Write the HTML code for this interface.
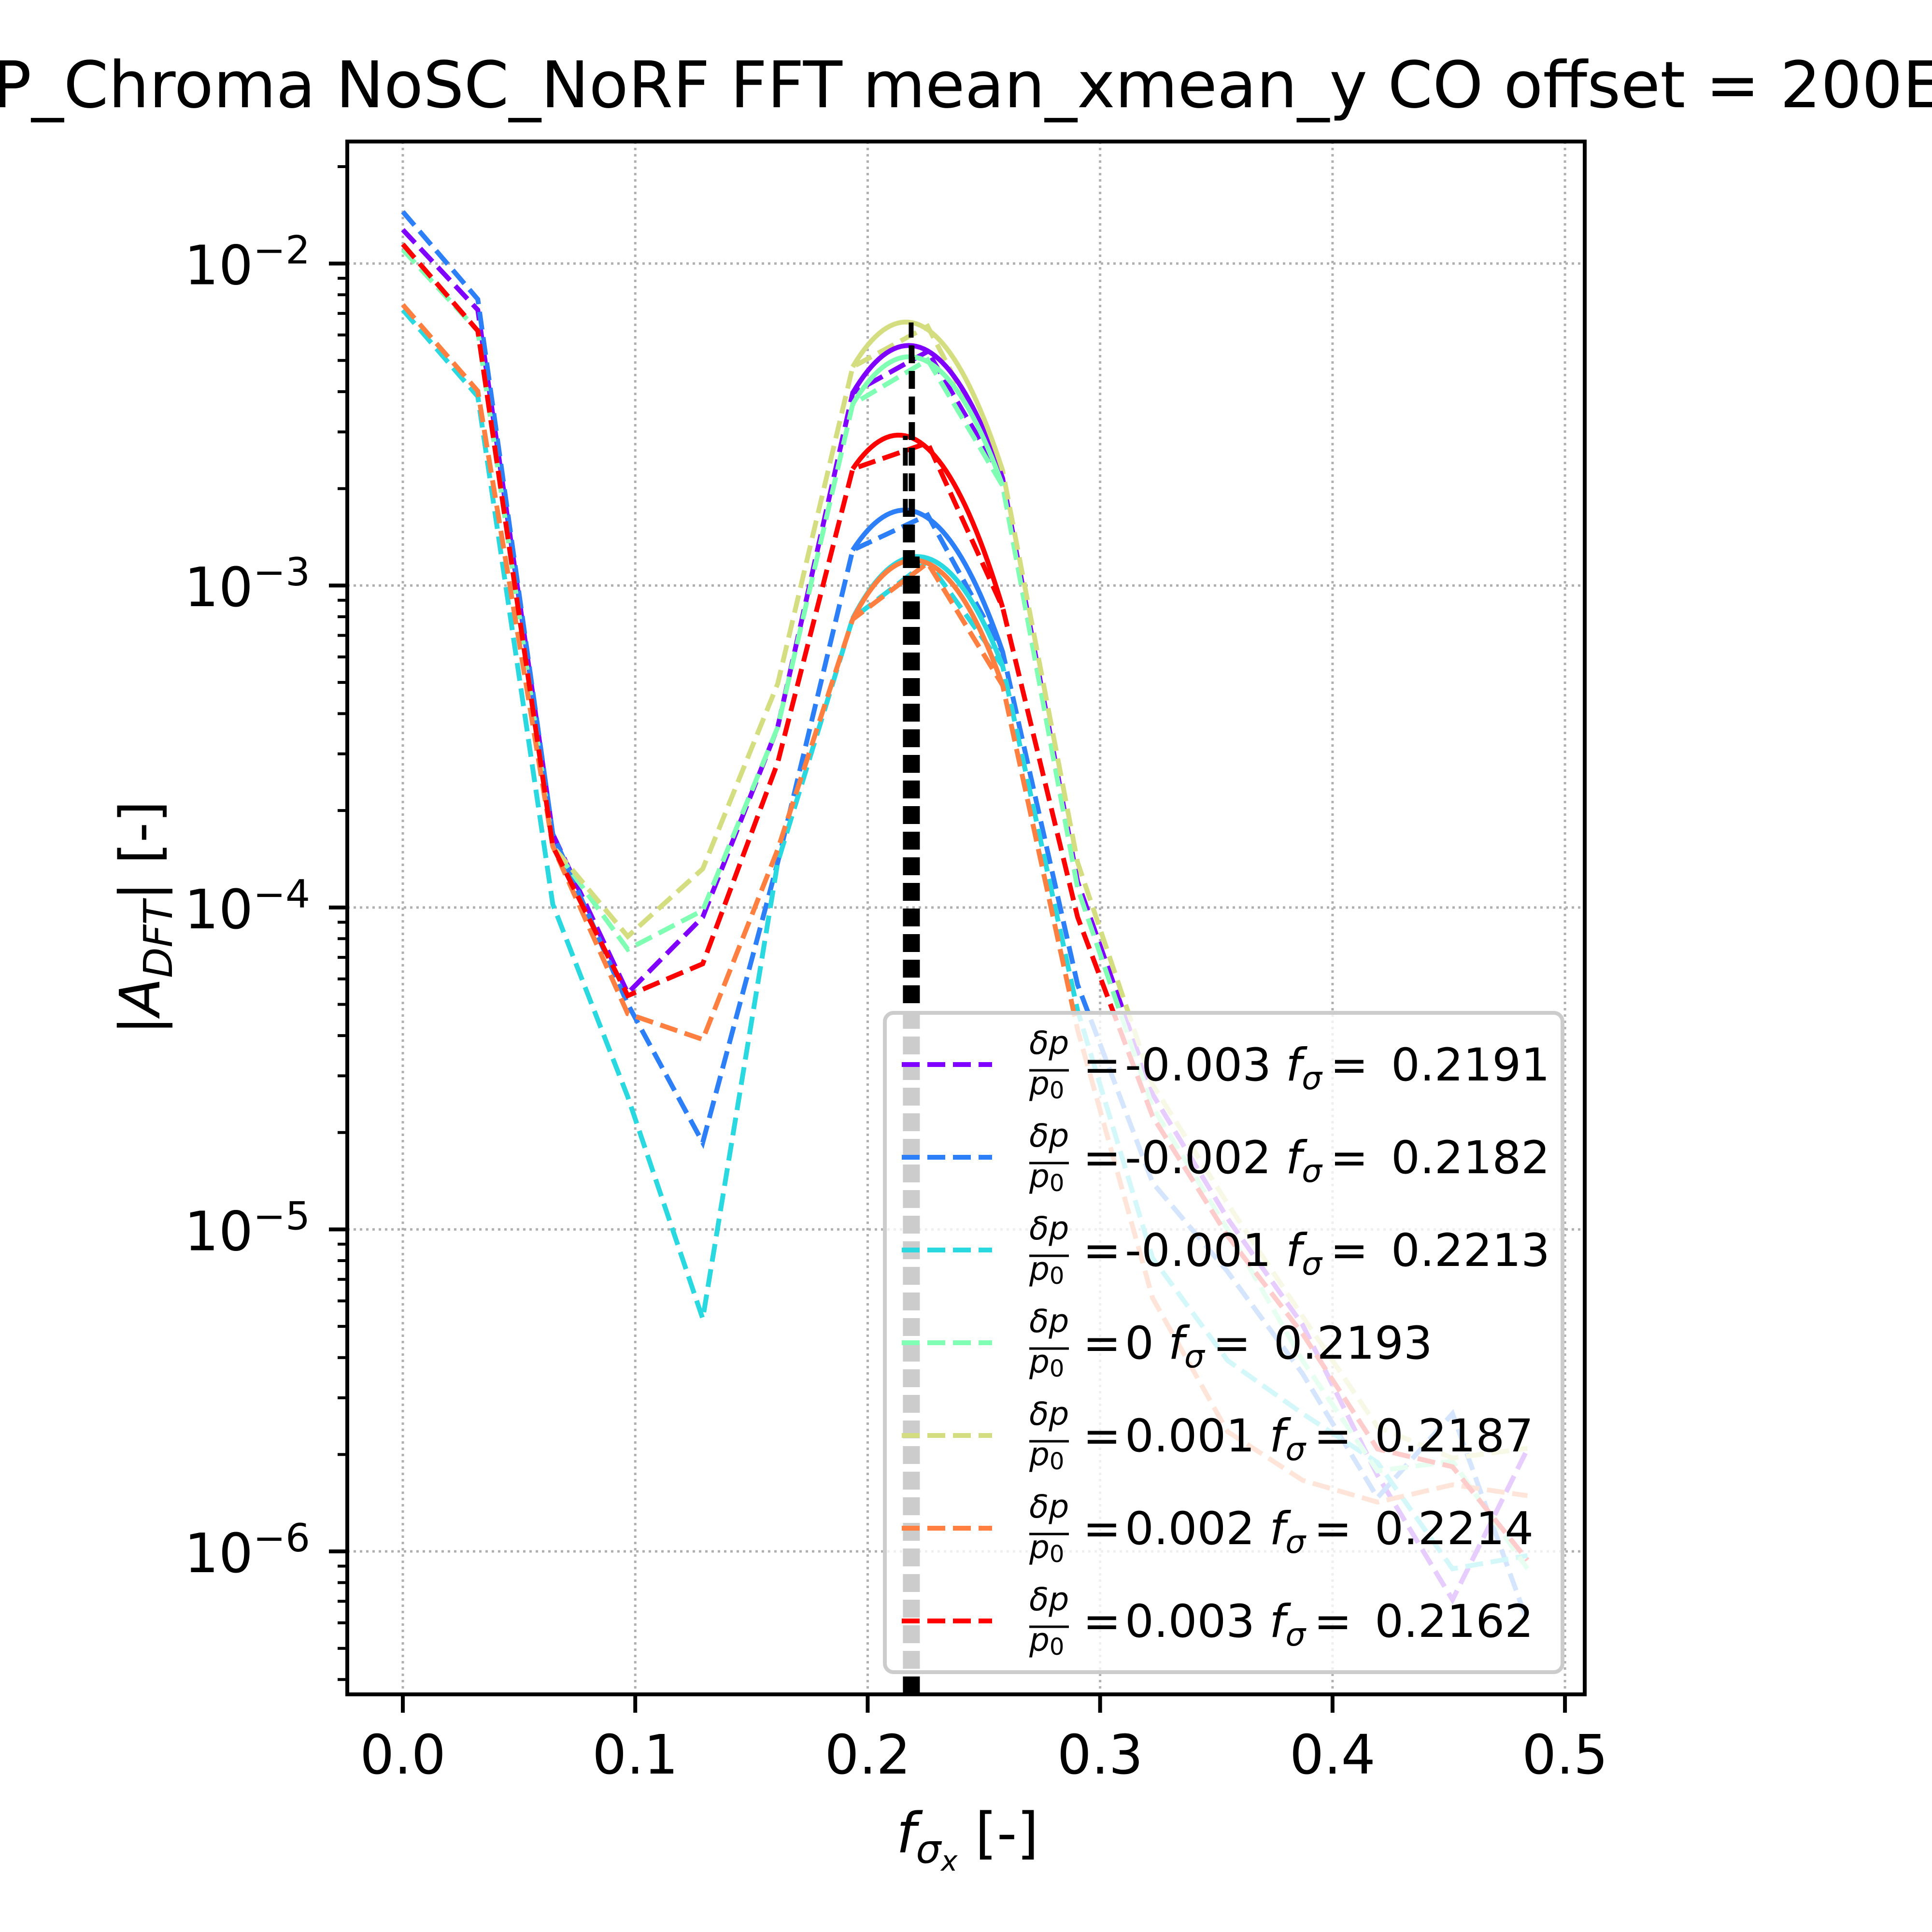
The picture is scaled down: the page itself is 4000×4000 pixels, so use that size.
<!DOCTYPE html>
<html><head><meta charset="utf-8"><style>
html,body{margin:0;padding:0;background:#fff;width:4000px;height:4000px;overflow:hidden}
svg{display:block}
text{font-family:"DejaVu Sans","Liberation Sans",sans-serif;fill:#000}
</style></head><body>
<svg id="chart" width="4000" height="4000" viewBox="0 0 4000 4000" xmlns="http://www.w3.org/2000/svg">
<rect width="4000" height="4000" fill="#fff"/>
<text x="-15" y="222" font-size="133">P_Chroma NoSC_NoRF FFT mean_xmean_y CO offset = 200E</text>
<g id="grid"></g>
<g id="plot"></g>
<g id="axes"></g>
<g id="legend"></g>
</svg>
<script>
const categories = ["-0.003","-0.002","-0.001","0","0.001","0.002","0.003"];
const colors = ["#8000ff","#2c7ff6","#2ad9df","#80ffb4","#d4dd80","#ff7f40","#ff0000"];
const fSigma = [0.2191,0.2182,0.2213,0.2193,0.2187,0.2214,0.2162];
const fitPeakLog = [-2.255,-2.767,-2.91,-2.29,-2.183,-2.922,-2.535];
const freqIndex = [0,1,2,3,4,5,6,7,8,9,10,11,12,13,14,15];
const sPurple = [-1.895,-2.144,-3.772,-4.266,-4.03,-3.44,-2.402,-2.273,-2.667,-3.92,-4.58,-4.966,-5.296,-5.764,-6.15,-5.682];
const sBlue   = [-1.839,-2.111,-3.772,-4.30,-4.73,-3.86,-2.890,-2.781,-3.206,-4.24,-4.855,-5.131,-5.448,-5.833,-5.572,-6.219];
const sCyan   = [-2.144,-2.413,-3.99,-4.588,-5.277,-3.86,-3.102,-2.925,-3.25,-4.32,-5.089,-5.407,-5.572,-5.724,-6.054,-6.013];
const sGreen  = [-1.957,-2.209,-3.81,-4.13,-4.009,-3.44,-2.437,-2.299,-2.69,-3.94,-4.62,-5.0,-5.407,-5.75,-5.72,-6.054];
const sYellow = [-1.94,-2.209,-3.81,-4.09,-3.88,-3.305,-2.321,-2.195,-2.643,-3.86,-4.55,-4.92,-5.27,-5.613,-5.71,-5.68];
const sOrange = [-2.128,-2.396,-3.81,-4.33,-4.41,-3.82,-3.105,-2.93,-3.31,-4.38,-5.213,-5.628,-5.779,-5.847,-5.793,-5.827];
const sRed    = [-1.94,-2.209,-3.81,-4.274,-4.175,-3.55,-2.638,-2.557,-3.068,-4.03,-4.649,-5.02,-5.324,-5.682,-5.737,-6.027];
const series = [sPurple,sBlue,sCyan,sGreen,sYellow,sOrange,sRed];
const xTicks = [0,0.1,0.2,0.3,0.4,0.5];
const xTickLabels = ["0.0","0.1","0.2","0.3","0.4","0.5"];
const yTicks = [-2,-3,-4,-5,-6];
const yTickLabels = ["\u22122","\u22123","\u22124","\u22125","\u22126"];
const N = 31;

const L=719,R=3281,T=293,B=3508;
const xMin=-0.0239,xMax=0.5085,yMin=-6.444,yMax=-1.621;
const X=v=>L+(v-xMin)/(xMax-xMin)*(R-L);
const Y=lv=>B-(lv-yMin)/(yMax-yMin)*(B-T);
const NS="http://www.w3.org/2000/svg";
function mk(tag,attrs,parent){const e=document.createElementNS(NS,tag);for(const k in attrs)e.setAttribute(k,attrs[k]);parent.appendChild(e);return e;}
const grid=document.getElementById('grid'),plot=document.getElementById('plot'),axes=document.getElementById('axes'),leg=document.getElementById('legend');

xTicks.forEach(t=>{const g=mk('line',{x1:X(t),x2:X(t),y1:T,y2:B,stroke:'#b0b0b0','stroke-width':5,'stroke-dasharray':'5,8'},grid);

});
yTicks.forEach(t=>{const g=mk('line',{x1:L,x2:R,y1:Y(t),y2:Y(t),stroke:'#b0b0b0','stroke-width':5,'stroke-dasharray':'5,8'},grid);

});

series.forEach((s,k)=>{
  const pts=freqIndex.map(i=>X(i/N)+','+Y(s[i])).join(' ');
  const p=mk('polyline',{points:pts,fill:'none',stroke:colors[k],'stroke-width':10,'stroke-dasharray':'37,16'},plot);
  
  
});
series.forEach((s,k)=>{
  const x1=6/N,y1=s[6],x2=fSigma[k],y2=fitPeakLog[k],x3=8/N,y3=s[8];
  const f=x=>y1*(x-x2)*(x-x3)/((x1-x2)*(x1-x3))+y2*(x-x1)*(x-x3)/((x2-x1)*(x2-x3))+y3*(x-x1)*(x-x2)/((x3-x1)*(x3-x2));
  let pts=[];for(let j=0;j<=40;j++){const x=x1+(x3-x1)*j/40;pts.push(X(x)+','+Y(f(x)));}
  const p=mk('polyline',{points:pts.join(' '),fill:'none',stroke:colors[k],'stroke-width':10},plot);
  
  
});
fSigma.forEach((f,k)=>{
  const l=mk('line',{x1:X(f),x2:X(f),y1:B,y2:Y(fitPeakLog[k]),stroke:'#000','stroke-width':10,'stroke-dasharray':'37,16'},plot);
  
  
});

const sp=mk('rect',{x:L,y:T,width:R-L,height:B-T,fill:'none',stroke:'#000','stroke-width':8},axes);


xTicks.forEach((t,i)=>{
  mk('line',{x1:X(t),x2:X(t),y1:B,y2:B+38,stroke:'#000','stroke-width':8},axes);
  const tx=mk('text',{x:X(t),y:3672,'font-size':112,'text-anchor':'middle'},axes);
  tx.textContent=xTickLabels[i];
  
  
});
for(let d=-7;d<=-1;d++){for(let m=2;m<=9;m++){const lv=d+Math.log10(m);if(lv>yMin&&lv<yMax)mk('line',{x1:L-20,x2:L,y1:Y(lv),y2:Y(lv),stroke:'#000','stroke-width':6},axes);}}
yTicks.forEach((t,i)=>{
  mk('line',{x1:L-38,x2:L,y1:Y(t),y2:Y(t),stroke:'#000','stroke-width':8},axes);
  const tx=mk('text',{x:642,y:Y(t)+43,'font-size':112,'text-anchor':'end'},axes);
  tx.innerHTML='10<tspan dy="-43" font-size="80">'+yTickLabels[i]+'</tspan>';
  
  
});
const yl=mk('text',{x:0,y:0,'font-size':115,'text-anchor':'middle',transform:'translate(330,1900) rotate(-90)'},axes);
yl.innerHTML='|<tspan font-style="italic">A</tspan><tspan font-style="italic" font-size="82" dy="26">DFT</tspan><tspan dy="-26">| [-]</tspan>';


const xl=mk('text',{x:2003,y:3835,'font-size':115,'text-anchor':'middle'},axes);
xl.innerHTML='<tspan font-style="italic">f</tspan><tspan font-style="italic" font-size="82" dy="22">σ</tspan><tspan font-style="italic" font-size="58" dy="16">x</tspan><tspan dy="-38"> [-]</tspan>';



const box=mk('rect',{x:1832,y:2097,width:1403,height:1365,rx:18,fill:'#fff','fill-opacity':0.8,stroke:'#cccccc','stroke-width':8},leg);


categories.forEach((c,k)=>{
  const cy=2204+k*192;
  const g=mk('g',{},leg);
  
  
  mk('line',{x1:1867,x2:2054,y1:cy,y2:cy,stroke:colors[k],'stroke-width':10,'stroke-dasharray':'37,16'},g);
  const a=mk('text',{x:2131,y:cy-22,'font-size':66,'font-style':'italic'},g);a.textContent='δp';
  mk('line',{x1:2131,x2:2213,y1:cy+12,y2:cy+12,stroke:'#000','stroke-width':5},g);
  const b=mk('text',{x:2131,y:cy+62,'font-size':66},g);
  b.innerHTML='<tspan font-style="italic">p</tspan><tspan font-size="48" dy="8">0</tspan>';
  const eq=mk('text',{x:2242,y:cy+33,'font-size':94},g);eq.textContent='=';
  const v=mk('text',{x:2329,y:cy+33,'font-size':94},g);v.textContent=c;
  const w=v.getComputedTextLength();
  const fx=2329+w+30;
  const ft=mk('text',{x:fx,y:cy+33,'font-size':94},g);
  ft.innerHTML='<tspan font-style="italic">f</tspan><tspan font-style="italic" font-size="66" dy="18">σ</tspan>';
  const eq2=mk('text',{x:fx+92,y:cy+33,'font-size':94},g);eq2.textContent='=';
  const num=mk('text',{x:fx+218,y:cy+33,'font-size':94},g);num.textContent=fSigma[k].toFixed(4);
});
</script>
</body></html>
